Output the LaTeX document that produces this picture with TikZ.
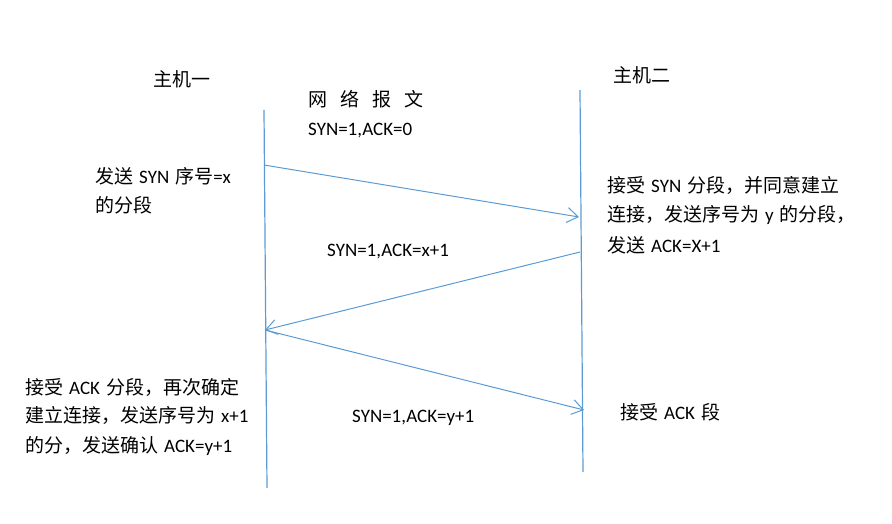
\documentclass[tikz,border=0pt]{standalone}
\usepackage{fontspec}
\setmainfont{Carlito}
\newfontfamily\zhfont{Noto Sans CJK SC}[Scale=1.0]
\newcommand\zh[1]{{\zhfont #1}}
\newcommand\gap{\hspace{6pt}}
\usetikzlibrary{arrows.meta}
\definecolor{lineblue}{RGB}{91,155,213}
\tikzset{
  lbl/.style={inner sep=0pt, anchor=base west, font=\fontsize{19}{23}\selectfont},
  life/.style={draw=lineblue, line width=1.2pt},
  msg/.style={draw=lineblue, line width=1.0pt, -{Straight Barb[length=11pt,width=15pt,line width=1.0pt]}},
}
\begin{document}
\begin{tikzpicture}[x=1pt,y=-1pt]
\useasboundingbox (0,0) rectangle (892,524);
% lifelines
\coordinate (L1t) at (264,110);
\coordinate (L1b) at (267,488);
\coordinate (R1t) at (580,90);
\coordinate (R1b) at (583,472);
\draw[life] (L1t) -- (L1b);
\draw[life] (R1t) -- (R1b);
% messages
\coordinate (a1s) at (264,165);
\coordinate (a1e) at (579,217);
\coordinate (a2s) at (580,252);
\coordinate (a2e) at (265,330);
\coordinate (a3s) at (265,330);
\coordinate (a3e) at (584,410);
\draw[msg] (a1s) -- (a1e);
\draw[msg] (a2s) -- (a2e);
\draw[msg] (a3s) -- (a3e);
% labels
\node[lbl] (host1) at (153,87) {\zh{主机一}};
\node[lbl] (host2) at (613,83) {\zh{主机二}};
\node[lbl] (net) at (308,107) {\zh{网\hspace{13pt}络\hspace{13pt}报\hspace{13pt}文}};
\node[lbl] (m1) at (308,136) {SYN=1,ACK=0};
\node[lbl] (m2) at (327,256) {SYN=1,ACK=x+1};
\node[lbl] (m3) at (352,422) {SYN=1,ACK=y+1};
\node[lbl] (s1a) at (95,184) {\zh{发送}\gap SYN\gap\zh{序号}=x};
\node[lbl] (s1b) at (95,212) {\zh{的分段}};
\node[lbl] (r1a) at (607,193) {\zh{接受}\gap SYN\gap\zh{分段，并同意建立}};
\node[lbl] (r1b) at (607,222) {\zh{连接，发送序号为}\gap y\gap\zh{的分段，}};
\node[lbl] (r1c) at (607,252) {\zh{发送}\gap ACK=X+1};
\node[lbl] (s2a) at (25,394) {\zh{接受}\gap ACK\gap\zh{分段，再次确定}};
\node[lbl] (s2b) at (25,422) {\zh{建立连接，发送序号为}\gap x+1};
\node[lbl] (s2c) at (25,452) {\zh{的分，发送确认}\gap ACK=y+1};
\node[lbl] (r2) at (620,419) {\zh{接受}\gap ACK\gap\zh{段}};
\end{tikzpicture}
\end{document}
